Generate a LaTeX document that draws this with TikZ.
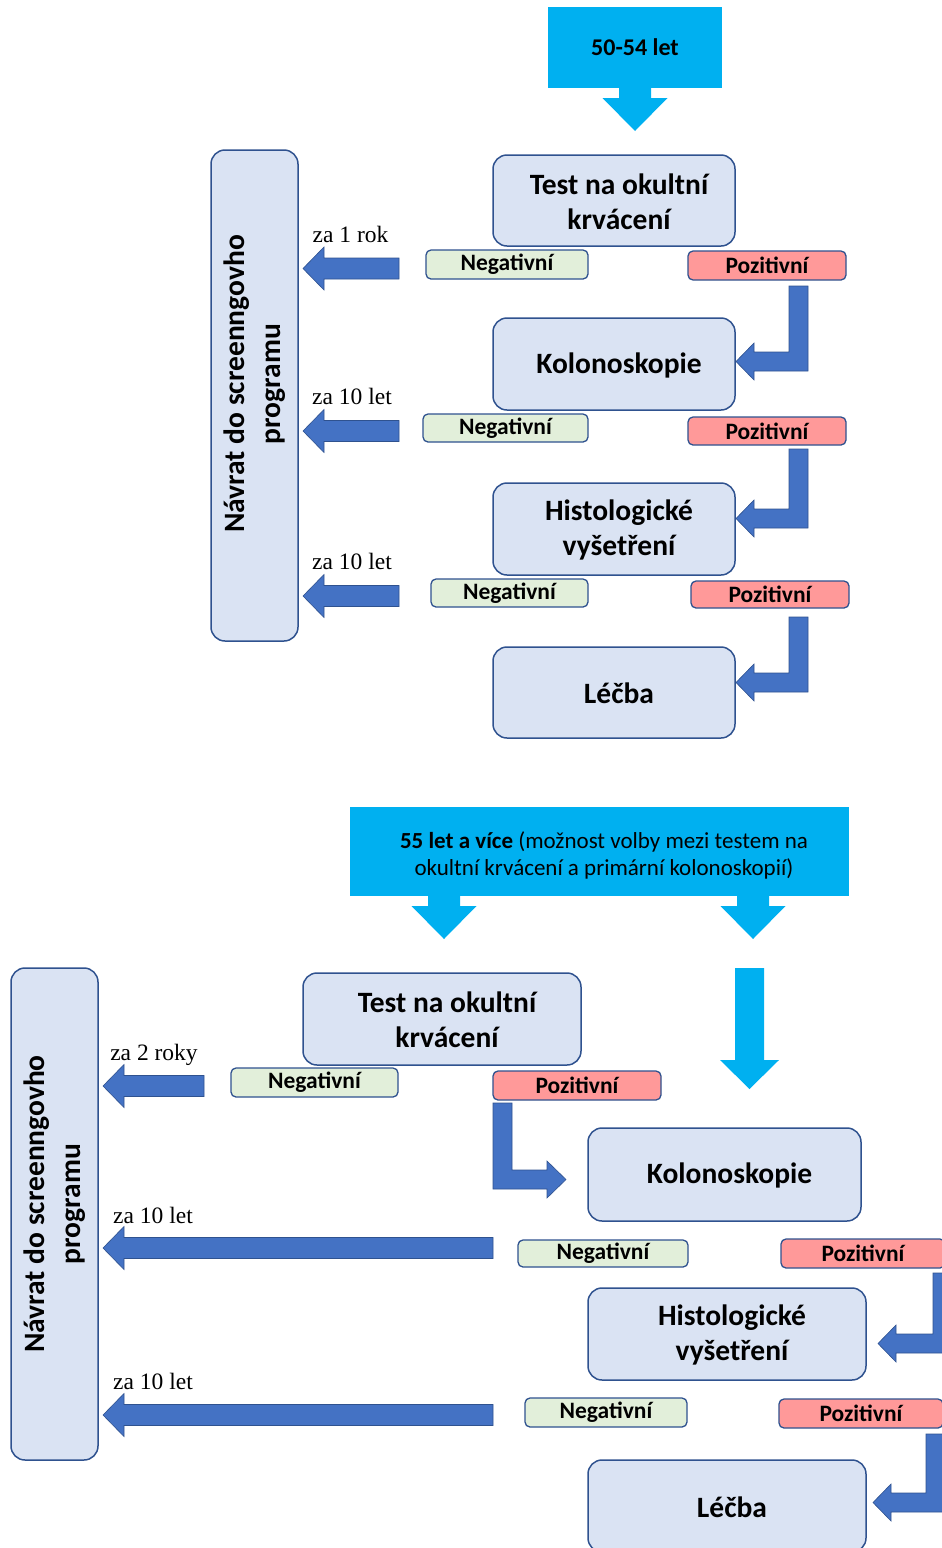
\documentclass[tikz,border=0pt]{standalone}
\usepackage{fontspec}
\setmainfont{Carlito}
\newfontfamily\notefont{Liberation Serif}
\usepackage{tikz}
\definecolor{ScreenCyan}{RGB}{0,176,240}
\definecolor{StageFill}{RGB}{218,227,243}
\definecolor{StageEdge}{RGB}{47,82,143}
\definecolor{NegFill}{RGB}{226,239,218}
\definecolor{PosFill}{RGB}{255,153,153}
\definecolor{ArrowBlue}{RGB}{68,114,196}

\begin{document}
\begin{tikzpicture}[x=1pt,y=-1pt,
  stage/.style n args={3}{rectangle,draw=StageEdge,fill=StageFill,line width=1.5pt,rounded corners=14pt,minimum width=#1pt,minimum height=#2pt,inner sep=0pt,
     label={[shift={(5,1)},align=center,font=\bfseries\fontsize{29.5}{35}\selectfont]center:{#3}}},
  result/.style n args={3}{rectangle,draw=StageEdge,fill=#1,line width=1.3pt,rounded corners=5pt,minimum width=#2pt,minimum height=#3pt,inner sep=0pt,font=\bfseries\fontsize{23.5}{25}\selectfont},
  agebox/.style n args={2}{rectangle,fill=ScreenCyan,minimum width=#1pt,minimum height=#2pt,inner sep=0pt,align=center},
  interval/.style={anchor=base,inner sep=0pt,font=\notefont\fontsize{23.5}{26}\selectfont},
  returntext/.style={rotate=90,align=center,font=\bfseries\fontsize{29.5}{36}\selectfont},
  backarr/.style={fill=ArrowBlue,draw=StageEdge,line width=0.6pt}]
\useasboundingbox (0,0) rectangle (942,1548);
\clip (0,0) rectangle (942,1548);

% 50-54 let
\node[agebox={174}{81},font=\bfseries\fontsize{24}{26}\selectfont] (age1) at (635,47.5) {50-54 let};
\node[stage={87}{491}{}] (ret1) at (254.5,395.5) {};
\node[returntext] (ret1txt) at (254.5,384) {Návrat do screenngovho\\programu};
\node[stage={242}{91}{Test na okultní\\krvácení}] (test1) at (614,200.5) {};
\node[stage={242}{92}{Kolonoskopie}] (kolo1) at (614,364) {};
\node[stage={242}{92}{Histologické\\vyšetření}] (hist1) at (614,529) {};
\node[stage={242}{91}{Léčba}] (lecba1) at (614,692.5) {};
\node[result={NegFill}{162}{29}] (neg1a) at (507,264.5) {Negativní};
\node[result={PosFill}{158}{29}] (poz1a) at (767,265.5) {Pozitivní};
\node[result={NegFill}{165}{28}] (neg1b) at (505.5,428) {Negativní};
\node[result={PosFill}{158}{28}] (poz1b) at (767,431) {Pozitivní};
\node[result={NegFill}{157}{28}] (neg1c) at (509.5,593) {Negativní};
\node[result={PosFill}{158}{27}] (poz1c) at (770,594.5) {Pozitivní};
\node[interval] (int1a) at (350.5,242) {za 1 rok};
\node[interval] (int1b) at (352,404) {za 10 let};
\node[interval] (int1c) at (352,569) {za 10 let};

% 55 let a vice
\node[agebox={499}{89},label={[shift={(4.5,4)},align=center,font=\fontsize{23}{27}\selectfont]center:{\textbf{55 let a více} (možnost volby mezi testem na\\okultní krvácení a primární kolonoskopií)}}] (age2) at (599.5,851.5) {};
\node[stage={87}{492}{}] (ret2) at (54.5,1214) {};
\node[returntext] (ret2txt) at (54.5,1204) {Návrat do screenngovho\\programu};
\node[stage={278}{92}{Test na okultní\\krvácení}] (test2) at (442,1019) {};
\node[stage={273}{93}{Kolonoskopie}] (kolo2) at (724.5,1174.5) {};
\node[stage={278}{92}{Histologické\\vyšetření}] (hist2) at (727,1334) {};
\node[stage={278}{92}{Léčba}] (lecba2) at (727,1506) {};
\node[result={NegFill}{167}{29}] (neg2a) at (314.5,1082.5) {Negativní};
\node[result={PosFill}{168}{29}] (poz2a) at (577,1085.5) {Pozitivní};
\node[result={NegFill}{170}{27}] (neg2b) at (603,1253.5) {Negativní};
\node[result={PosFill}{164}{29}] (poz2b) at (863,1253.5) {Pozitivní};
\node[result={NegFill}{162}{29}] (neg2c) at (606,1412.5) {Negativní};
\node[result={PosFill}{164}{29}] (poz2c) at (861,1413.5) {Pozitivní};
\node[interval] (int2a) at (154,1060) {za 2 roky};
\node[interval] (int2b) at (153,1223) {za 10 let};
\node[interval] (int2c) at (153,1389) {za 10 let};

% arrows
\foreach \cx/\cy in {635/88,444/896,753/896}
   \fill[ScreenCyan] (\cx-16,\cy-1) -- (\cx+16,\cy-1) -- (\cx+16,\cy+10) -- (\cx+32.5,\cy+10)
      -- (\cx,\cy+43) -- (\cx-32.5,\cy+10) -- (\cx-16,\cy+10) -- cycle;
\fill[ScreenCyan] (735,968) -- (764,968) -- (764,1060) -- (779,1060) -- (749.5,1089) -- (720,1060) -- (735,1060) -- cycle;
\foreach \tx/\ex/\ay in {303/399/268.5,303/399/431,303/399/596,103/204/1086,103/493/1248,103/493/1415}
   \draw[backarr] (\tx,\ay) -- (\tx+21,\ay-21.5) -- (\tx+21,\ay-10.5) -- (\ex,\ay-10.5)
      -- (\ex,\ay+10.5) -- (\tx+21,\ay+10.5) -- (\tx+21,\ay+21.5) -- cycle;
\foreach \bx/\by/\ey/\hx in {789/286/371/736,789/449/528/736,789/617/692/736,933/1273/1353/878,926/1434/1512/873}
   \draw[backarr] (\bx,\by) -- (\bx+19,\by) -- (\bx+19,\ey) -- (\hx+18,\ey) -- (\hx+18,\ey+9)
      -- (\hx,\ey-9.5) -- (\hx+18,\ey-28) -- (\hx+18,\ey-19) -- (\bx,\ey-19) -- cycle;
\draw[backarr] (493,1103) -- (512,1103) -- (512,1170) -- (547,1170) -- (547,1161) -- (566,1179.5)
   -- (547,1198) -- (547,1189) -- (493,1189) -- cycle;
\end{tikzpicture}
\end{document}
